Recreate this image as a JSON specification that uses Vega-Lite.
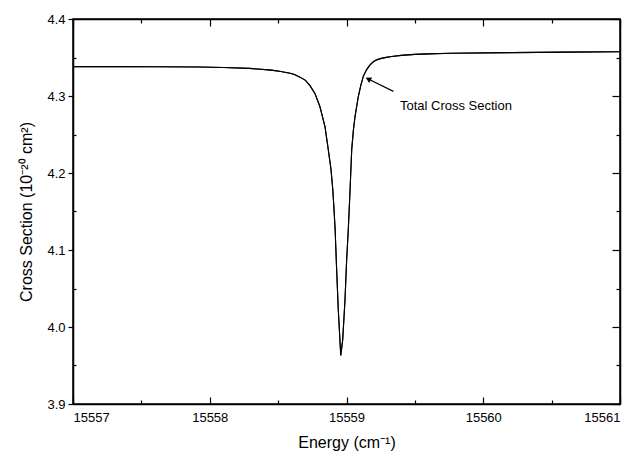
{
  "$schema": "https://vega.github.io/schema/vega-lite/v6.json",
  "width": 547,
  "height": 385,
  "autosize": "none",
  "padding": {"left": 73, "top": 19, "right": 18, "bottom": 55},
  "background": "white",
  "config": {
    "font": "Liberation Sans",
    "view": {"stroke": "black", "strokeWidth": 1.5},
    "axis": {
      "domainColor": "black",
      "domainWidth": 1.5,
      "tickColor": "black",
      "tickWidth": 1.2,
      "grid": false,
      "labelColor": "black",
      "titleColor": "black",
      "labelFont": "Liberation Sans",
      "titleFont": "Liberation Sans",
      "labelFontSize": 13,
      "titleFontSize": 16,
      "titleFontWeight": "normal"
    }
  },
  "datasets": {
    "curve": [
      {"energy": 15557.0, "value": 4.3382},
      {"energy": 15557.3, "value": 4.3381},
      {"energy": 15557.6, "value": 4.338},
      {"energy": 15557.93, "value": 4.3377},
      {"energy": 15558.1, "value": 4.3371},
      {"energy": 15558.29, "value": 4.3359},
      {"energy": 15558.45, "value": 4.3336},
      {"energy": 15558.52, "value": 4.3319},
      {"energy": 15558.587, "value": 4.3296},
      {"energy": 15558.62, "value": 4.3278},
      {"energy": 15558.66, "value": 4.3245},
      {"energy": 15558.7, "value": 4.3203},
      {"energy": 15558.733, "value": 4.3135},
      {"energy": 15558.77, "value": 4.303},
      {"energy": 15558.806, "value": 4.286},
      {"energy": 15558.843, "value": 4.26},
      {"energy": 15558.867, "value": 4.23},
      {"energy": 15558.887, "value": 4.204},
      {"energy": 15558.9, "value": 4.178},
      {"energy": 15558.909, "value": 4.152},
      {"energy": 15558.917, "value": 4.126},
      {"energy": 15558.928, "value": 4.074},
      {"energy": 15558.94, "value": 4.022},
      {"energy": 15558.958, "value": 3.963},
      {"energy": 15558.972, "value": 3.983},
      {"energy": 15558.989, "value": 4.035},
      {"energy": 15559.001, "value": 4.087},
      {"energy": 15559.013, "value": 4.126},
      {"energy": 15559.026, "value": 4.178},
      {"energy": 15559.038, "value": 4.23},
      {"energy": 15559.05, "value": 4.255},
      {"energy": 15559.062, "value": 4.273},
      {"energy": 15559.086, "value": 4.299},
      {"energy": 15559.105, "value": 4.314},
      {"energy": 15559.123, "value": 4.3255},
      {"energy": 15559.146, "value": 4.334},
      {"energy": 15559.172, "value": 4.3405},
      {"energy": 15559.19, "value": 4.3435},
      {"energy": 15559.21, "value": 4.346},
      {"energy": 15559.24, "value": 4.3482},
      {"energy": 15559.28, "value": 4.3498},
      {"energy": 15559.33, "value": 4.3512},
      {"energy": 15559.4, "value": 4.3528},
      {"energy": 15559.5, "value": 4.354},
      {"energy": 15559.6, "value": 4.3547},
      {"energy": 15559.764, "value": 4.3555},
      {"energy": 15560.2, "value": 4.3563},
      {"energy": 15560.6, "value": 4.357},
      {"energy": 15560.985, "value": 4.3575},
      {"energy": 15561.0, "value": 4.3575}
    ],
    "arrow": [
      {"energy": 15559.148, "value": 4.323},
      {"energy": 15559.343, "value": 4.306}
    ],
    "head": [
      {"energy": 15559.165, "value": 4.3215}
    ],
    "label": [
      {"energy": 15559.391, "value": 4.287, "text": "Total Cross Section"}
    ]
  },
  "resolve": {"axis": {"x": "independent", "y": "independent"}},
  "layer": [
    {
      "data": {"name": "curve"},
      "mark": {"type": "line", "color": "black", "strokeWidth": 1.1},
      "encoding": {
        "x": {
          "field": "energy", "type": "quantitative",
          "scale": {"domain": [15557, 15561], "nice": false, "zero": false},
          "axis": {
            "orient": "bottom",
            "title": "Energy (cm⁻¹)",
            "values": [15557, 15557.5, 15558, 15558.5, 15559, 15559.5, 15560, 15560.5, 15561],
            "labelExpr": "datum.value % 1 === 0 ? format(datum.value, 'd') : ''",
            "tickSize": {"condition": {"test": "datum.value % 1 === 0", "value": -7}, "value": -4},
            "labelPadding": 14,
            "titlePadding": 10
          }
        },
        "y": {
          "field": "value", "type": "quantitative",
          "scale": {"domain": [3.9, 4.4], "nice": false, "zero": false},
          "axis": {
            "orient": "left",
            "title": "Cross Section (10⁻²⁰ cm²)",
            "values": [3.9, 3.95, 4.0, 4.05, 4.1, 4.15, 4.2, 4.25, 4.3, 4.35, 4.4],
            "labelExpr": "abs(datum.value * 10 - round(datum.value * 10)) < 0.01 ? format(datum.value, '.1f') : ''",
            "tickSize": {"condition": {"test": "abs(datum.value * 10 - round(datum.value * 10)) < 0.01", "value": 5}, "value": -3},
            "labelPadding": 3,
            "titlePadding": 12
          }
        }
      }
    },
    {
      "data": {"name": "curve"},
      "mark": {"type": "line", "color": "black", "strokeWidth": 1.1},
      "encoding": {
        "x": {
          "field": "energy", "type": "quantitative",
          "axis": {
            "orient": "top",
            "title": null,
            "labels": false,
            "values": [15557, 15557.5, 15558, 15558.5, 15559, 15559.5, 15560, 15560.5, 15561],
            "tickSize": {"condition": {"test": "datum.value % 1 === 0", "value": -7}, "value": -4}
          }
        },
        "y": {
          "field": "value", "type": "quantitative",
          "axis": {
            "orient": "right",
            "title": null,
            "labels": false,
            "values": [3.9, 3.95, 4.0, 4.05, 4.1, 4.15, 4.2, 4.25, 4.3, 4.35, 4.4],
            "tickSize": {"condition": {"test": "abs(datum.value * 10 - round(datum.value * 10)) < 0.01", "value": -8}, "value": -4}
          }
        }
      }
    },
    {
      "data": {"name": "arrow"},
      "mark": {"type": "line", "color": "black", "strokeWidth": 1.2},
      "encoding": {
        "x": {"field": "energy", "type": "quantitative", "axis": null},
        "y": {"field": "value", "type": "quantitative", "axis": null}
      }
    },
    {
      "data": {"name": "head"},
      "mark": {"type": "point", "shape": "triangle", "filled": true, "color": "black", "size": 40, "angle": 297, "opacity": 1},
      "encoding": {
        "x": {"field": "energy", "type": "quantitative", "axis": null},
        "y": {"field": "value", "type": "quantitative", "axis": null}
      }
    },
    {
      "data": {"name": "label"},
      "mark": {"type": "text", "align": "left", "baseline": "middle", "fontSize": 13, "font": "Liberation Sans", "color": "black"},
      "encoding": {
        "x": {"field": "energy", "type": "quantitative", "axis": null},
        "y": {"field": "value", "type": "quantitative", "axis": null},
        "text": {"field": "text"}
      }
    }
  ]
}
